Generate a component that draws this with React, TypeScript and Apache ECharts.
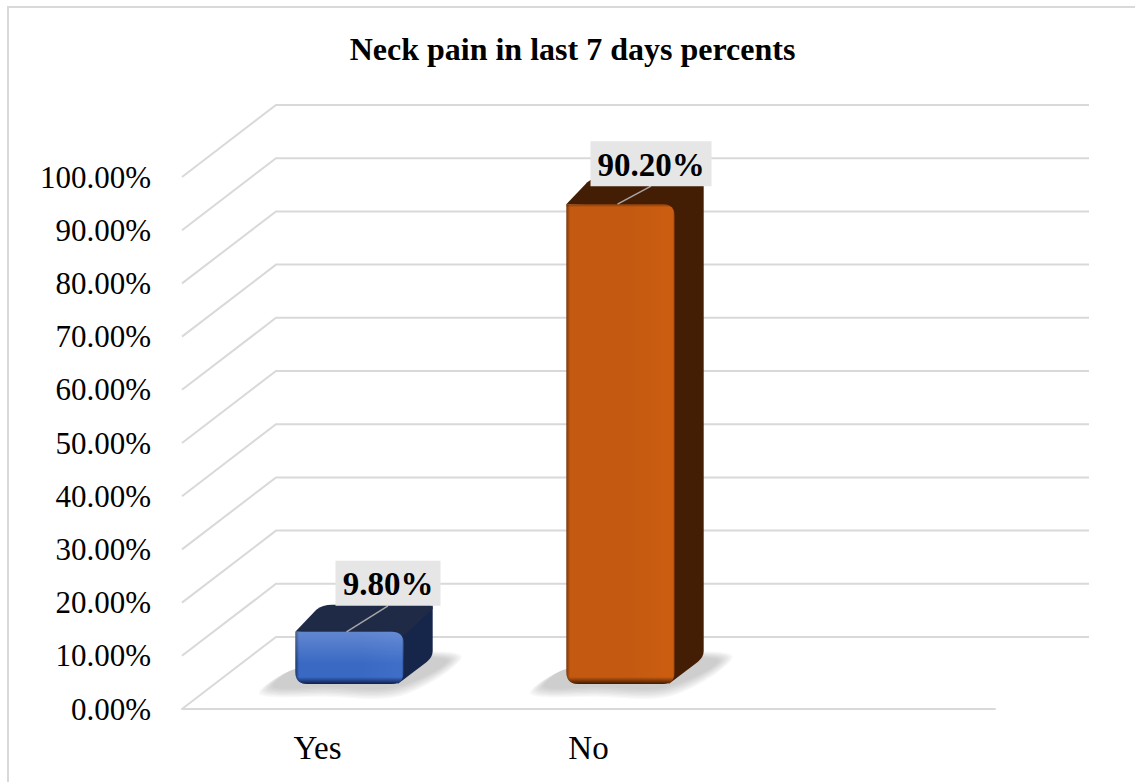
import React, { useEffect, useRef } from "react";
import * as echarts from "echarts";

const categories = ["Yes", "No", ""];
const answerValues = [9.8, 90.2];
const tickValues = [0, 10, 20, 30, 40, 50, 60, 70, 80, 90, 100];

const frontBlue = { base: "#3a69c4", light: "#3f6ec9", edge: "#1b3566", top: "#1f2a46", side: "#16264a" };
const frontOrange = { base: "#c45a11", light: "#cb5d10", edge: "#7a3608", top: "#431e04", side: "#431e04" };
const barPalette = [frontBlue, frontOrange];
const labelShift = [38.5, 30.5];
const labelLift = [1, 9];
const labelBoxWidth = [105, 121];
const shadowSpread = [14, 12, 10, 8, 6, 4, 2, 0];

// Oblique projection of the chart's floor: depth of the walls and inset of the bars.
const WALL_DX = 94;
const WALL_DY = 72;
const BAR_INSET_X = 32;
const BAR_INSET_Y = 25;
const BAR_DX = 29;
const BAR_DY = 27;

const serif = '"Liberation Serif", "Times New Roman", serif';

function renderWall(params: any, api: any) {
  const v = api.value(0);
  const [, y] = api.coord([0, v]);
  const left = params.coordSys.x;
  const right = left + params.coordSys.width;
  return {
    type: "polyline",
    silent: true,
    shape: {
      points: [
        [left, y],
        [left + WALL_DX, y - WALL_DY],
        [right + WALL_DX, y - WALL_DY],
      ],
    },
    style: { stroke: "#d9d9d9", lineWidth: 2, fill: "none" },
  };
}

function renderBar(params: any, api: any) {
  const idx = api.value(0);
  const val = api.value(1);
  const pal = barPalette[idx];
  const [cx, y0] = api.coord([idx, 0]);
  const [, yv] = api.coord([idx, val]);
  const width = api.size([1, 0])[0] * 0.4;
  const xl = cx + BAR_INSET_X - width / 2;
  const xr = xl + width;
  const yb = y0 - BAR_INSET_Y;
  const yt = yv - BAR_INSET_Y;
  const h = yb - yt;
  const r = 12;

  const linear = (x: number, y: number, x2: number, y2: number, stops: [number, string][]) => ({
    type: "linear",
    x,
    y,
    x2,
    y2,
    colorStops: stops.map(([offset, color]) => ({ offset, color })),
  });

  const front =
    `M${xl} ${yt}L${xr - r} ${yt}Q${xr} ${yt} ${xr} ${yt + r}L${xr} ${yb - r}Q${xr} ${yb} ${xr - r} ${yb}` +
    `L${xl + r} ${yb}Q${xl} ${yb} ${xl} ${yb - r}Z`;
  const top =
    `M${xl} ${yt}L${xl + BAR_DX - 8} ${yt - BAR_DY + 5}Q${xl + BAR_DX - 2} ${yt - BAR_DY} ${xl + BAR_DX + 8} ${yt - BAR_DY}` +
    `L${xr + BAR_DX - 4} ${yt - BAR_DY}Q${xr + BAR_DX} ${yt - BAR_DY} ${xr + BAR_DX} ${yt - BAR_DY + 4}L${xr} ${yt + 4}Z`;
  const side =
    `M${xr - 10} ${yt}L${xr + BAR_DX} ${yt - BAR_DY}L${xr + BAR_DX} ${yb - BAR_DY - 6}` +
    `Q${xr + BAR_DX} ${yb - BAR_DY} ${xr + BAR_DX - 6} ${yb - BAR_DY + 5}L${xr - 6} ${yb}Z`;

  // Soft floor shadow: rounded outlines stacked from the widest spread inwards.
  const shadowLayers = shadowSpread.map((d) => ({
    type: "polygon",
    silent: true,
    shape: {
      smooth: 0.35,
      points: [
        [xl - 22 - d, yb + 3 + d * 0.5],
        [xl + 30, yb + 3 + d * 0.7],
        [xr - 8 + d * 0.5, yb + 3 + d * 0.6],
        [xr + 44 + d, yb - 23 - d * 0.3],
        [xr, yb - 26 - d * 0.4],
        [xl, yb - 15],
      ],
    },
    style: { fill: "rgba(110,110,110,0.05)" },
  }));

  const boxW = labelBoxWidth[idx];
  const boxCx = (xl + xr) / 2 + labelShift[idx];
  const boxBottom = yt - BAR_DY + labelLift[idx];
  const boxH = 45;

  const px = (n: number) => n / h;

  return {
    type: "group",
    children: [
      ...shadowLayers,
      { type: "path", shape: { pathData: side }, silent: true, style: { fill: pal.side } },
      { type: "path", shape: { pathData: top }, silent: true, style: { fill: pal.top } },
      { type: "path", shape: { pathData: front }, silent: true,
        style: { fill: linear(0, 0, 1, 0, [[0, pal.edge], [0.035, pal.base], [0.6, pal.base], [0.93, pal.light], [0.985, pal.light], [1, pal.edge]]) } },
      { type: "path", shape: { pathData: front }, silent: true,
        style: { fill: linear(0, 0, 0, 1, idx === 0
          ? [[0, "rgba(255,255,255,0.2)"], [0.6, "rgba(255,255,255,0)"], [1 - px(7), "rgba(10,20,60,0)"], [1, "rgba(10,20,60,0.9)"]]
          : [[0, "rgba(60,25,0,0.5)"], [px(3), "rgba(60,25,0,0)"], [1 - px(7), "rgba(50,20,0,0)"], [1, "rgba(50,20,0,0.92)"]]) } },
      { type: "line", silent: true,
        shape: { x1: (xl + xr) / 2 - 3, y1: yt, x2: boxCx, y2: boxBottom },
        style: { stroke: "#a6a6a6", lineWidth: 1.5 } },
      { type: "rect", silent: true,
        shape: { x: boxCx - boxW / 2, y: boxBottom - boxH, width: boxW, height: boxH },
        style: { fill: "#e6e6e6" } },
      { type: "text", silent: true,
        x: boxCx, y: boxBottom - boxH / 2 + 1,
        style: { text: `${val.toFixed(2)}%`, font: `bold 33px ${serif}`, fill: "#000", align: "center", verticalAlign: "middle" } },
    ],
  };
}

export default function App() {
  const ref = useRef<HTMLDivElement>(null);

  useEffect(() => {
    document.body.style.margin = "0";
    const chart = echarts.init(ref.current!, undefined, { renderer: "svg" });
    chart.setOption({
      animation: false,
      backgroundColor: "#ffffff",
      title: {
        text: "Neck pain in last 7 days percents",
        left: 567.5,
        top: 28,
        textAlign: "center",
        textStyle: { fontFamily: serif, fontWeight: "bold", fontSize: 32, color: "#000" },
      },
      grid: { left: 182, top: 177, width: 813, height: 532, containLabel: false },
      xAxis: {
        type: "category",
        data: categories,
        axisLine: { show: true, lineStyle: { color: "#d9d9d9", width: 2 } },
        axisTick: { show: false },
        axisLabel: { color: "#000", fontFamily: serif, fontSize: 33, margin: 22, interval: 0 },
        splitLine: { show: false },
      },
      yAxis: {
        type: "value",
        min: 0,
        max: 100,
        interval: 10,
        axisLine: { show: false },
        axisTick: { show: false },
        splitLine: { show: false },
        axisLabel: {
          color: "#000",
          fontFamily: serif,
          fontSize: 31,
          margin: 31,
          formatter: (v: number) => `${v.toFixed(2)}%`,
        },
      },
      graphic: [
        {
          type: "polyline",
          silent: true,
          shape: { points: [[8, 782], [8, 7], [1135, 7]] },
          style: { stroke: "#d9d9d9", lineWidth: 2, fill: "none" },
        },
      ],
      series: [
        {
          type: "custom",
          coordinateSystem: "cartesian2d",
          renderItem: renderWall,
          data: tickValues.map((v) => [v]),
          encode: { y: 0 },
          z: 1,
          silent: true,
          clip: false,
        },
        {
          type: "custom",
          coordinateSystem: "cartesian2d",
          renderItem: renderBar,
          data: answerValues.map((v, i) => [i, v]),
          encode: { x: 0, y: 1 },
          z: 3,
          silent: true,
          clip: false,
        },
      ],
    });
    return () => chart.dispose();
  }, []);

  return <div ref={ref} style={{ position: "fixed", left: 0, top: 0, width: 1135, height: 782 }} />;
}
